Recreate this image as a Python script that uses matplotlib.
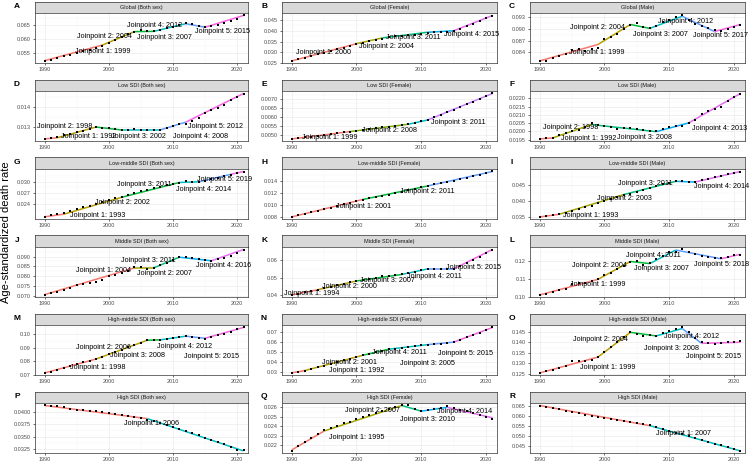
import matplotlib
matplotlib.use("Agg")
import matplotlib.pyplot as plt
from matplotlib.ticker import FixedLocator, FormatStrFormatter

plt.rcParams['font.family'] = ['Liberation Sans', 'DejaVu Sans']

years = list(range(1990, 2022))

# observed age-standardized death rates (1990-2021), one list per panel
global_both = [0.0520, 0.0525, 0.0530, 0.0537, 0.0543, 0.0549, 0.0556, 0.0561, 0.0567, 0.0574,
               0.0584, 0.0596, 0.0607, 0.0617, 0.0626, 0.0632, 0.0629, 0.0628, 0.0632, 0.0639,
               0.0645, 0.0651, 0.0657, 0.0654, 0.0648, 0.0644, 0.0647, 0.0652, 0.0657, 0.0665,
               0.0674, 0.0686]
global_female = [0.0261, 0.0268, 0.0275, 0.0283, 0.0291, 0.0298, 0.0306, 0.0314, 0.0321, 0.0329,
                 0.0337, 0.0344, 0.0351, 0.0357, 0.0363, 0.0371, 0.0375, 0.0377, 0.0380, 0.0382,
                 0.0386, 0.0391, 0.0394, 0.0395, 0.0396, 0.0398, 0.0410, 0.0421, 0.0432, 0.0445,
                 0.0457, 0.0470]
global_male = [0.0818, 0.0819, 0.0826, 0.0831, 0.0836, 0.0845, 0.0848, 0.0843, 0.0848, 0.0852,
               0.0873, 0.0879, 0.0887, 0.0900, 0.0909, 0.0915, 0.0905, 0.0903, 0.0908, 0.0917,
               0.0923, 0.0929, 0.0934, 0.0923, 0.0913, 0.0906, 0.0902, 0.0896, 0.0894, 0.0899,
               0.0905, 0.0910]
low_both = [0.01237, 0.01243, 0.01245, 0.01255, 0.01263, 0.01272, 0.01280, 0.01290, 0.01297, 0.01293,
            0.01295, 0.01290, 0.01283, 0.01285, 0.01286, 0.01285, 0.01284, 0.01283, 0.01283, 0.01295,
            0.01303, 0.01312, 0.01315, 0.01327, 0.01345, 0.01368, 0.01385, 0.01398, 0.01412, 0.01435,
            0.01450, 0.01468]
low_female = [0.00477, 0.00481, 0.00485, 0.00490, 0.00494, 0.00499, 0.00504, 0.00509, 0.00514, 0.00518,
              0.00522, 0.00527, 0.00532, 0.00536, 0.00541, 0.00545, 0.00550, 0.00555, 0.00560, 0.00568,
              0.00576, 0.00583, 0.00597, 0.00611, 0.00626, 0.00641, 0.00656, 0.00670, 0.00685, 0.00701,
              0.00716, 0.00731]
low_male = [0.01955, 0.01962, 0.01960, 0.01975, 0.01990, 0.02000, 0.02010, 0.02025, 0.02050, 0.02040,
            0.02035, 0.02025, 0.02015, 0.02018, 0.02018, 0.02015, 0.02010, 0.02003, 0.02000, 0.02013,
            0.02025, 0.02035, 0.02033, 0.02050, 0.02070, 0.02102, 0.02120, 0.02135, 0.02150, 0.02185,
            0.02210, 0.02228]
lowmid_both = [0.0207, 0.0211, 0.0214, 0.0217, 0.0222, 0.0227, 0.0232, 0.0237, 0.0242, 0.0247,
               0.0252, 0.0256, 0.0260, 0.0266, 0.0270, 0.0275, 0.0279, 0.0283, 0.0287, 0.0291,
               0.0294, 0.0298, 0.0301, 0.0300, 0.0299, 0.0303, 0.0307, 0.0311, 0.0315, 0.0319,
               0.0324, 0.0327]
lowmid_female = [0.0081, 0.0083, 0.0086, 0.0088, 0.0091, 0.0093, 0.0096, 0.0098, 0.0101, 0.0104,
                 0.0106, 0.0109, 0.0111, 0.0113, 0.0115, 0.0117, 0.0119, 0.0121, 0.0124, 0.0126,
                 0.0129, 0.0131, 0.0134, 0.0136, 0.0138, 0.0140, 0.0143, 0.0145, 0.0147, 0.0150,
                 0.0153, 0.0155]
lowmid_male = [0.0349, 0.0352, 0.0354, 0.0357, 0.0362, 0.0367, 0.0373, 0.0379, 0.0385, 0.0392,
               0.0399, 0.0405, 0.0412, 0.0418, 0.0423, 0.0428, 0.0434, 0.0440, 0.0446, 0.0452,
               0.0457, 0.0462, 0.0464, 0.0460, 0.0459, 0.0465, 0.0470, 0.0474, 0.0479, 0.0485,
               0.0488, 0.0492]
mid_both = [0.0705, 0.0713, 0.0722, 0.0730, 0.0738, 0.0755, 0.0760, 0.0766, 0.0772, 0.0783,
            0.0800, 0.0807, 0.0815, 0.0825, 0.0845, 0.0847, 0.0837, 0.0843, 0.0857, 0.0869,
            0.0882, 0.0897, 0.0897, 0.0893, 0.0888, 0.0882, 0.0880, 0.0890, 0.0895, 0.0904,
            0.0918, 0.0935]
mid_female = [0.0400, 0.0408, 0.0415, 0.0422, 0.0431, 0.0440, 0.0448, 0.0458, 0.0466, 0.0473,
              0.0483, 0.0489, 0.0494, 0.0500, 0.0509, 0.0511, 0.0513, 0.0519, 0.0527, 0.0532,
              0.0544, 0.0553, 0.0551, 0.0549, 0.0548, 0.0551, 0.0570, 0.0585, 0.0602, 0.0621,
              0.0644, 0.0661]
mid_male = [0.1010, 0.1016, 0.1024, 0.1034, 0.1043, 0.1068, 0.1075, 0.1073, 0.1087, 0.1096,
            0.1122, 0.1134, 0.1152, 0.1168, 0.1195, 0.1200, 0.1177, 0.1185, 0.1212, 0.1225,
            0.1247, 0.1250, 0.1263, 0.1250, 0.1236, 0.1225, 0.1220, 0.1218, 0.1215, 0.1222,
            0.1231, 0.1234]
highmid_both = [0.0712, 0.0722, 0.0735, 0.0748, 0.0762, 0.0777, 0.0790, 0.0800, 0.0813, 0.0830,
                0.0850, 0.0868, 0.0885, 0.0905, 0.0920, 0.0938, 0.0955, 0.0958, 0.0955, 0.0962,
                0.0970, 0.0978, 0.0987, 0.0978, 0.0970, 0.0968, 0.0980, 0.0992, 0.1005, 0.1020,
                0.1035, 0.1050]
highmid_female = [0.0295, 0.0305, 0.0318, 0.0336, 0.0350, 0.0368, 0.0385, 0.0402, 0.0420, 0.0435,
                  0.0453, 0.0470, 0.0487, 0.0503, 0.0516, 0.0528, 0.0535, 0.0543, 0.0552, 0.0560,
                  0.0568, 0.0575, 0.0580, 0.0586, 0.0593, 0.0600, 0.0622, 0.0646, 0.0670, 0.0695,
                  0.0720, 0.0745]
highmid_male = [0.1255, 0.1262, 0.1270, 0.1280, 0.1290, 0.1310, 0.1312, 0.1310, 0.1318, 0.1328,
                0.1355, 0.1380, 0.1402, 0.1425, 0.1450, 0.1438, 0.1428, 0.1435, 0.1432, 0.1445,
                0.1455, 0.1462, 0.1470, 0.1447, 0.1420, 0.1400, 0.1395, 0.1393, 0.1398, 0.1400,
                0.1402, 0.1405]
high_both = [0.0412, 0.0411, 0.0410, 0.0409, 0.0406, 0.0404, 0.0403, 0.0402, 0.0401, 0.0399,
             0.0397, 0.0396, 0.0394, 0.0392, 0.0390, 0.0388, 0.0384, 0.0382, 0.0378, 0.0374,
             0.0370, 0.0365, 0.0361, 0.0357, 0.0353, 0.0348, 0.0344, 0.0339, 0.0335, 0.0330,
             0.0324, 0.0323]
high_female = [0.0214, 0.0219, 0.0223, 0.0228, 0.0232, 0.0236, 0.0238, 0.0240, 0.0243, 0.0245,
               0.0248, 0.0250, 0.0252, 0.0254, 0.0256, 0.0258, 0.0260, 0.0262, 0.0262, 0.0258,
               0.0256, 0.0257, 0.0258, 0.0259, 0.0261, 0.0259, 0.0257, 0.0256, 0.0254, 0.0252,
               0.0250, 0.0248]
high_male = [0.0651, 0.0645, 0.0641, 0.0635, 0.0626, 0.0620, 0.0614, 0.0607, 0.0602, 0.0597,
             0.0590, 0.0586, 0.0581, 0.0575, 0.0570, 0.0565, 0.0560, 0.0553, 0.0546, 0.0536,
             0.0527, 0.0518, 0.0510, 0.0500, 0.0490, 0.0481, 0.0472, 0.0462, 0.0455, 0.0446,
             0.0435, 0.0428]

# joinpoint years per panel
jp_global_both = [1999, 2004, 2007, 2012, 2015]
jp_global_female = [2000, 2004, 2011, 2015]
jp_global_male = [1999, 2004, 2007, 2012, 2017]
jp_low_both = [1992, 1998, 2002, 2008, 2012]
jp_low_female = [1999, 2008, 2011]
jp_low_male = [1992, 1998, 2008, 2013]
jp_lowmid_both = [1993, 2002, 2011, 2014, 2019]
jp_lowmid_female = [2001, 2011]
jp_lowmid_male = [1993, 2003, 2011, 2014]
jp_mid_both = [2004, 2007, 2011, 2016]
jp_mid_female = [1994, 2000, 2007, 2011, 2015]
jp_mid_male = [1999, 2004, 2007, 2011, 2018]
jp_highmid_both = [1998, 2006, 2008, 2012, 2015]
jp_highmid_female = [1992, 2001, 2005, 2011, 2015]
jp_highmid_male = [1999, 2004, 2008, 2012, 2015]
jp_high_both = [2006]
jp_high_female = [1995, 2007, 2010, 2014]
jp_high_male = [2007]

# fitted values at 1990, each joinpoint and 2021
fit_global_both = [0.0521, 0.0578, 0.0627, 0.0628, 0.0656, 0.0643, 0.0686]
fit_global_female = [0.0260, 0.0340, 0.0367, 0.0393, 0.0400, 0.0471]
fit_global_male = [0.0818, 0.0860, 0.0911, 0.0901, 0.0932, 0.0893, 0.0911]
fit_low_both = [0.01237, 0.01243, 0.01298, 0.01283, 0.01283, 0.01323, 0.01470]
fit_low_female = [0.00477, 0.00518, 0.00559, 0.00583, 0.00731]
fit_low_male = [0.01954, 0.01960, 0.02041, 0.01998, 0.02051, 0.02229]
fit_lowmid_both = [0.02074, 0.02143, 0.02589, 0.02983, 0.03000, 0.03197, 0.03274]
fit_lowmid_female = [0.00806, 0.01092, 0.01313, 0.01550]
fit_lowmid_male = [0.03490, 0.03573, 0.04198, 0.04615, 0.04594, 0.04927]
fit_mid_both = [0.07066, 0.08426, 0.08426, 0.08967, 0.08787, 0.09361]
fit_mid_female = [0.0400, 0.0430, 0.0481, 0.0519, 0.0551, 0.0551, 0.0664]
fit_mid_male = [0.1009, 0.1096, 0.1196, 0.1184, 0.1260, 0.1211, 0.1236]
fit_highmid_both = [0.0712, 0.0815, 0.0955, 0.0958, 0.0985, 0.0970, 0.1050]
fit_highmid_female = [0.0296, 0.0318, 0.0470, 0.0530, 0.0575, 0.0600, 0.0745]
fit_highmid_male = [0.1255, 0.1330, 0.1447, 0.1430, 0.1465, 0.1395, 0.1400]
fit_high_both = [0.0412, 0.0386, 0.0322]
fit_high_female = [0.0215, 0.0235, 0.0262, 0.0256, 0.0260, 0.0249]
fit_high_male = [0.0652, 0.0552, 0.0427]

titles = ["Global (Both sex)", "Global (Female)", "Global (Male)",
          "Low SDI (Both sex)", "Low SDI (Female)", "Low SDI (Male)",
          "Low-middle SDI (Both sex)", "Low-middle SDI (Female)", "Low-middle SDI (Male)",
          "Middle SDI (Both sex)", "Middle SDI (Female)", "Middle SDI (Male)",
          "High-middle SDI (Both sex)", "High-middle SDI (Female)", "High-middle SDI (Male)",
          "High SDI (Both sex)", "High SDI (Female)", "High SDI (Male)"]
letters = list("ABCDEFGHIJKLMNOPQR")

rates = [global_both, global_female, global_male, low_both, low_female, low_male,
         lowmid_both, lowmid_female, lowmid_male, mid_both, mid_female, mid_male,
         highmid_both, highmid_female, highmid_male, high_both, high_female, high_male]
joinpoints = [jp_global_both, jp_global_female, jp_global_male, jp_low_both, jp_low_female,
              jp_low_male, jp_lowmid_both, jp_lowmid_female, jp_lowmid_male, jp_mid_both,
              jp_mid_female, jp_mid_male, jp_highmid_both, jp_highmid_female, jp_highmid_male,
              jp_high_both, jp_high_female, jp_high_male]
fits = [fit_global_both, fit_global_female, fit_global_male, fit_low_both, fit_low_female,
        fit_low_male, fit_lowmid_both, fit_lowmid_female, fit_lowmid_male, fit_mid_both,
        fit_mid_female, fit_mid_male, fit_highmid_both, fit_highmid_female, fit_highmid_male,
        fit_high_both, fit_high_female, fit_high_male]

# y ticks and decimals of each panel
yticks = [[0.055, 0.060, 0.065], [0.025, 0.030, 0.035, 0.040, 0.045], [0.084, 0.087, 0.090, 0.093],
          [0.013, 0.014], [0.0050, 0.0055, 0.0060, 0.0065, 0.0070],
          [0.0195, 0.0200, 0.0205, 0.0210, 0.0215, 0.0220],
          [0.024, 0.027, 0.030], [0.008, 0.010, 0.012, 0.014, 0.016], [0.035, 0.040, 0.045, 0.050],
          [0.070, 0.075, 0.080, 0.085, 0.090], [0.04, 0.05, 0.06], [0.10, 0.11, 0.12],
          [0.07, 0.08, 0.09, 0.10], [0.03, 0.04, 0.05, 0.06, 0.07], [0.125, 0.130, 0.135, 0.140, 0.145],
          [0.0325, 0.0350, 0.0375, 0.0400], [0.022, 0.023, 0.024, 0.025, 0.026],
          [0.045, 0.050, 0.055, 0.060, 0.065]]
ydec = [3, 3, 3, 3, 4, 4, 3, 3, 3, 3, 2, 2, 2, 2, 3, 4, 3, 3]

# where each joinpoint label sits (data coords)
label_xy = [
    [(1999.1, 0.0556), (1999.3, 0.0610), (2008.6, 0.0607), (2007.2, 0.0650), (2017.8, 0.0626)],
    [(1994.9, 0.0300), (2004.7, 0.0325), (2008.8, 0.0370), (2017.8, 0.0381)],
    [(1998.8, 0.0840), (1999.0, 0.0903), (2008.7, 0.0885), (2012.5, 0.0918), (2017.9, 0.0883)],
    [(1996.9, 0.01249), (1993.2, 0.01300), (2004.7, 0.01250), (2014.3, 0.01248), (2016.6, 0.01303)],
    [(1995.9, 0.00485), (2005.1, 0.00524), (2015.8, 0.00570)],
    [(1997.6, 0.01958), (1994.8, 0.02026), (2006.2, 0.01964), (2017.8, 0.02018)],
    [(1998.2, 0.02117), (2002.2, 0.02443), (2005.5, 0.02931), (2014.8, 0.02786), (2018.1, 0.03069)],
    [(2001.1, 0.00982), (2011.0, 0.01230)],
    [(1997.8, 0.03542), (2003.1, 0.04063), (2006.3, 0.04531), (2018.1, 0.04437)],
    [(1999.2, 0.08311), (2008.6, 0.08148), (2006.1, 0.08803), (2017.9, 0.08541)],
    [(1993.1, 0.0411), (1998.9, 0.0449), (2004.8, 0.0481), (2012.1, 0.0506), (2018.0, 0.0557)],
    [(1999.0, 0.1069), (1999.2, 0.1175), (2008.8, 0.1156), (2007.6, 0.1229), (2018.1, 0.1178)],
    [(1998.3, 0.0752), (1999.1, 0.0902), (2004.5, 0.0843), (2011.8, 0.0909), (2016.0, 0.0837)],
    [(2000.1, 0.0318), (1999.0, 0.0398), (2010.9, 0.0389), (2006.6, 0.0497), (2016.8, 0.0490)],
    [(2000.5, 0.1280), (1999.4, 0.1411), (2010.3, 0.1372), (2013.5, 0.1428), (2016.9, 0.1333)],
    [(2006.7, 0.0376)],
    [(2000.1, 0.02277), (2002.5, 0.02569), (2010.9, 0.02475), (2016.7, 0.02558)],
    [(2012.2, 0.0514)],
]

# ggplot hue palettes by number of segments
hue = {2: ['#F8766D', '#00BFC4'],
       3: ['#F8766D', '#00BA38', '#619CFF'],
       4: ['#F8766D', '#7CAE00', '#00BFC4', '#C77CFF'],
       5: ['#F8766D', '#A3A500', '#00BF7D', '#00B0F6', '#E76BF3'],
       6: ['#F8766D', '#B79F00', '#00BA38', '#00BFC4', '#619CFF', '#F564E3']}

W, H = 750, 465
fig = plt.figure(figsize=(7.5, 4.65), dpi=100)

col_left = [35, 282, 530]
col_right = [248, 497, 745]
row_top = [1.5 + 78 * r for r in range(6)]
strip_h = 11.7
plot_h = 50

for i in range(18):
    r, c = divmod(i, 3)
    x0, x1 = col_left[c], col_right[c]
    st = row_top[r]
    # strip
    sax = fig.add_axes([x0 / W, 1 - (st + strip_h) / H, (x1 - x0) / W, strip_h / H])
    sax.set_facecolor('#D9D9D9')
    sax.set_xticks([])
    sax.set_yticks([])
    for s in sax.spines.values():
        s.set_color('#333333')
        s.set_linewidth(0.5)
    sax.text(0.5, 0.5, titles[i], ha='center', va='center', fontsize=4, color='#1A1A1A',
             transform=sax.transAxes)
    fig.text((x0 - 18) / W, 1 - (st + 5) / H, letters[i], fontsize=6, fontweight='bold',
             ha='center', va='center')

    ax = fig.add_axes([x0 / W, 1 - (st + strip_h + plot_h) / H, (x1 - x0) / W, plot_h / H])
    rate = rates[i]
    jps = joinpoints[i]
    fit = fits[i]
    knots = [1990] + jps + [2021]
    cols = hue[len(knots) - 1]
    for k in range(len(knots) - 1):
        ax.plot(knots[k:k + 2], fit[k:k + 2], color=cols[k], lw=1.1, solid_capstyle='butt', zorder=3)
    ax.plot(years, rate, 's', color='black', ms=2.1, mew=0, zorder=4)
    for j, (lx, ly) in enumerate(label_xy[i]):
        ax.text(lx, ly, f"Joinpoint {j + 1}: {jps[j]}", fontsize=5.2, ha='center', va='center', zorder=5)

    lab_y = [p[1] for p in label_xy[i]]
    lo = min(min(rate), min(fit), min(lab_y))
    hi = max(max(rate), max(fit), max(lab_y))
    pad = (hi - lo) * 0.05
    ax.set_ylim(lo - pad, hi + pad)
    ax.set_xlim(1988.5, 2021.7)

    ax.xaxis.set_major_locator(FixedLocator([1990, 2000, 2010, 2020]))
    ax.xaxis.set_minor_locator(FixedLocator([1995, 2005, 2015]))
    yt = yticks[i]
    ax.yaxis.set_major_locator(FixedLocator(yt))
    step = yt[1] - yt[0]
    ax.yaxis.set_minor_locator(FixedLocator([v + step / 2 for v in [yt[0] - step] + yt]))
    ax.yaxis.set_major_formatter(FormatStrFormatter(f"%.{ydec[i]}f"))
    ax.grid(which='major', color='#EBEBEB', lw=0.5)
    ax.grid(which='minor', color='#F3F3F3', lw=0.3)
    ax.set_axisbelow(True)
    ax.tick_params(which='major', labelsize=4, colors='#333333', labelcolor='#4D4D4D',
                   length=1.5, width=0.5, pad=1.5)
    ax.tick_params(which='minor', length=0)
    for s in ax.spines.values():
        s.set_color('#333333')
        s.set_linewidth(0.5)

fig.text(6 / W, 0.5, "Age-standardized death rate", rotation=90, fontsize=8,
         ha='center', va='center')

fig.savefig("out.png", dpi=100)
